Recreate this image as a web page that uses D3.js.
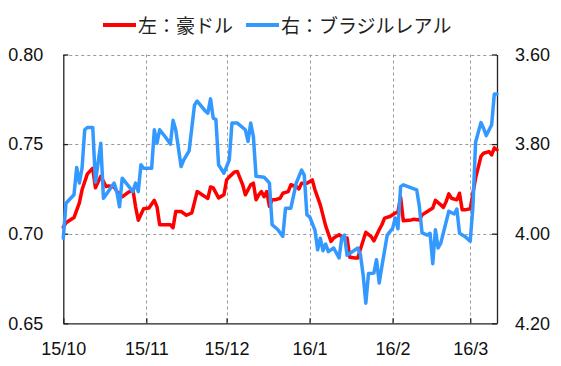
<!DOCTYPE html>
<html><head><meta charset="utf-8">
<script src="https://cdn.jsdelivr.net/npm/d3@7"></script>
<style>body{margin:0;background:#fff}svg{display:block}</style>
</head><body><svg id="c" width="561" height="366"></svg>
<script>
// ---- data ----
const seriesNames = ["左：豪ドル", "右：ブラジルレアル"];
const leftTicks = [0.65, 0.70, 0.75, 0.80];
const rightTicks = [3.60, 3.80, 4.00, 4.20];
const monthTicks = ["2015-10-01","2015-11-01","2015-12-01","2016-01-01","2016-02-01","2016-03-01"];
const xStart = "2015-10-01", xEnd = "2016-03-11";

const audDates = ["2015-10-01","2015-10-02","2015-10-05","2015-10-07","2015-10-08","2015-10-10","2015-10-12","2015-10-13","2015-10-15","2015-10-17","2015-10-18","2015-10-20","2015-10-21","2015-10-23","2015-10-25","2015-10-27","2015-10-28","2015-10-29","2015-10-31",
"2015-11-02","2015-11-04","2015-11-05","2015-11-06","2015-11-10","2015-11-11","2015-11-12","2015-11-14","2015-11-16","2015-11-18","2015-11-20","2015-11-23","2015-11-24","2015-11-25","2015-11-26","2015-11-28","2015-11-30",
"2015-12-01","2015-12-02","2015-12-04","2015-12-05","2015-12-06","2015-12-07","2015-12-08","2015-12-10","2015-12-11","2015-12-12","2015-12-13","2015-12-14","2015-12-15","2015-12-16","2015-12-17","2015-12-18","2015-12-19","2015-12-21","2015-12-22","2015-12-24","2015-12-25","2015-12-27","2015-12-28","2015-12-29","2015-12-31",
"2016-01-02","2016-01-03","2016-01-05","2016-01-07","2016-01-09","2016-01-10","2016-01-12","2016-01-14","2016-01-15","2016-01-16","2016-01-18","2016-01-19","2016-01-20","2016-01-22","2016-01-24","2016-01-25","2016-01-27","2016-01-28","2016-01-29","2016-01-31",
"2016-02-02","2016-02-03","2016-02-04","2016-02-05","2016-02-08","2016-02-09","2016-02-11","2016-02-12","2016-02-14","2016-02-16","2016-02-17","2016-02-19","2016-02-20","2016-02-21","2016-02-22","2016-02-23","2016-02-25","2016-02-26","2016-02-27","2016-02-28",
"2016-03-01","2016-03-03","2016-03-05","2016-03-06","2016-03-08","2016-03-09","2016-03-10","2016-03-11"];
const audValues = [0.7036,0.7061,0.7090,0.7172,0.7245,0.7334,0.7365,0.7256,0.7320,0.7263,0.7267,0.7261,0.7236,0.7206,0.7228,0.7245,0.7150,0.7075,0.7139,
0.7143,0.7186,0.7150,0.7050,0.7050,0.7033,0.7124,0.7124,0.7103,0.7116,0.7235,0.7206,0.7197,0.7261,0.7256,0.7200,0.7217,
0.7300,0.7317,0.7345,0.7347,0.7310,0.7273,0.7217,0.7273,0.7282,0.7189,0.7217,0.7235,0.7207,0.7235,0.7152,0.7189,0.7189,0.7198,0.7226,0.7235,0.7273,0.7263,0.7250,0.7282,0.7282,
0.7300,0.7245,0.7161,0.7044,0.6957,0.6976,0.6994,0.6972,0.6976,0.6868,0.6864,0.6864,0.6915,0.7008,0.6984,0.6960,0.7022,0.7050,0.7087,0.7096,
0.7115,0.7122,0.7203,0.7072,0.7077,0.7081,0.7077,0.7105,0.7124,0.7143,0.7186,0.7161,0.7147,0.7179,0.7222,0.7198,0.7189,0.7226,0.7133,0.7133,
0.7139,0.7310,0.7431,0.7449,0.7458,0.7440,0.7479,0.7468];

const brlDates = ["2015-10-01","2015-10-02","2015-10-05","2015-10-06","2015-10-07","2015-10-08","2015-10-09","2015-10-10","2015-10-12","2015-10-13","2015-10-15","2015-10-16","2015-10-18","2015-10-20","2015-10-21","2015-10-22","2015-10-23","2015-10-25","2015-10-27","2015-10-28","2015-10-29","2015-10-30","2015-10-31",
"2015-11-03","2015-11-04","2015-11-05","2015-11-06","2015-11-08","2015-11-10","2015-11-11","2015-11-12","2015-11-14","2015-11-15","2015-11-17","2015-11-19","2015-11-20","2015-11-23","2015-11-24","2015-11-25","2015-11-26","2015-11-27","2015-11-28","2015-11-30",
"2015-12-02","2015-12-03","2015-12-05","2015-12-08","2015-12-09","2015-12-10","2015-12-11","2015-12-12","2015-12-15","2015-12-16","2015-12-17","2015-12-18","2015-12-20","2015-12-22","2015-12-23","2015-12-25","2015-12-27","2015-12-29","2015-12-30","2015-12-31",
"2016-01-01","2016-01-03","2016-01-04","2016-01-05","2016-01-06","2016-01-07","2016-01-08","2016-01-10","2016-01-12","2016-01-13","2016-01-14","2016-01-15","2016-01-17","2016-01-19","2016-01-20","2016-01-21","2016-01-22","2016-01-23","2016-01-25","2016-01-26","2016-01-27","2016-01-28","2016-01-30",
"2016-02-01","2016-02-02","2016-02-03","2016-02-04","2016-02-05","2016-02-10","2016-02-11","2016-02-12","2016-02-14","2016-02-15","2016-02-16","2016-02-17","2016-02-18","2016-02-19","2016-02-22","2016-02-24","2016-02-25","2016-02-26","2016-02-28",
"2016-03-01","2016-03-02","2016-03-03","2016-03-05","2016-03-06","2016-03-07","2016-03-09","2016-03-10","2016-03-11"];
const brlValues = [4.010,3.932,3.913,3.852,3.887,3.854,3.768,3.763,3.763,3.885,3.798,3.921,3.904,3.887,3.907,3.940,3.876,3.891,3.906,3.887,3.906,3.846,3.854,
3.854,3.768,3.798,3.768,3.783,3.800,3.747,3.768,3.850,3.835,3.815,3.713,3.704,3.726,3.731,3.699,3.742,3.745,3.846,3.865,
3.835,3.753,3.753,3.768,3.794,3.753,3.783,3.872,3.874,3.880,3.887,3.980,3.990,4.006,3.943,3.943,3.887,3.858,3.869,3.958,
3.962,3.992,4.036,4.010,4.038,4.023,4.040,4.032,4.054,4.010,4.003,4.048,4.040,4.032,4.047,4.092,4.155,4.089,4.088,4.058,4.110,4.073,4.003,
3.988,3.965,3.989,3.895,3.891,3.902,3.939,3.998,4.003,3.999,4.067,3.991,4.032,4.021,3.950,3.956,3.945,3.999,4.006,
4.017,3.940,3.796,3.752,3.765,3.781,3.757,3.688,3.688];

// ---- layout ----
const W = 561, H = 366;
const m = {left: 63.3, right: 64, top: 54.5, bottom: 42.7};
const parse = d3.utcParse("%Y-%m-%d");
const svg = d3.select("#c");

const x = d3.scaleUtc().domain([parse(xStart), parse(xEnd)]).range([m.left, W - m.right]);
const yL = d3.scaleLinear().domain([0.65, 0.80]).range([H - m.bottom, m.top]);
const yR = d3.scaleLinear().domain([3.60, 4.20]).range([m.top, H - m.bottom]);

const numFont = "'Liberation Sans', Arial, sans-serif";

// gridlines
const grid = svg.append("g").attr("stroke", "#9a9a9a").attr("stroke-width", 1).attr("stroke-dasharray", "3,3");
grid.selectAll("line.h").data(leftTicks.slice(1)).join("line")
  .attr("x1", m.left).attr("x2", W - m.right)
  .attr("y1", d => Math.round(yL(d)) + 0.5).attr("y2", d => Math.round(yL(d)) + 0.5);
grid.selectAll("line.v").data(monthTicks.slice(1).map(parse)).join("line")
  .attr("y1", m.top).attr("y2", H - m.bottom)
  .attr("x1", d => Math.round(x(d)) + 0.5).attr("x2", d => Math.round(x(d)) + 0.5);

// axes
function styleAxis(g) {
  g.select(".domain").attr("stroke", "#222").attr("stroke-width", 1.3);
  g.selectAll(".tick line").attr("stroke", "#222").attr("stroke-width", 1.3);
  g.selectAll("text").attr("fill", "#111").style("font-family", numFont).style("font-size", "18px");
}
svg.append("g").attr("transform", `translate(${m.left},0)`)
  .call(d3.axisLeft(yL).tickValues(leftTicks).tickFormat(d3.format(".2f")).tickSize(-5).tickSizeOuter(0).tickPadding(20))
  .call(styleAxis);
svg.append("g").attr("transform", `translate(${W - m.right},0)`)
  .call(d3.axisRight(yR).tickValues(rightTicks).tickFormat(d3.format(".2f")).tickSize(-5).tickSizeOuter(0).tickPadding(18))
  .call(styleAxis);
svg.append("g").attr("transform", `translate(0,${H - m.bottom})`)
  .call(d3.axisBottom(x).tickValues(monthTicks.map(parse)).tickFormat(d3.utcFormat("%y/%-m")).tickSize(-5).tickSizeOuter(0).tickPadding(19))
  .call(styleAxis);

// lines
const aud = audDates.map((d, i) => ({date: parse(d), v: audValues[i]}));
const brl = brlDates.map((d, i) => ({date: parse(d), v: brlValues[i]}));
const red = "#ff0000", blue = "#3399ff";
svg.append("path").datum(aud)
  .attr("fill", "none").attr("stroke", red).attr("stroke-width", 3.5).attr("stroke-linejoin", "round").attr("stroke-linecap", "round")
  .attr("d", d3.line().x(d => x(d.date)).y(d => yL(d.v)));
svg.append("path").datum(brl)
  .attr("fill", "none").attr("stroke", blue).attr("stroke-width", 3.5).attr("stroke-linejoin", "round").attr("stroke-linecap", "round")
  .attr("d", d3.line().x(d => x(d.date)).y(d => yR(d.v)));

// legend
const legend = svg.append("g").style("font-family", "'Noto Sans CJK JP', sans-serif").style("font-size", "19px");
const legItems = [{name: seriesNames[0], color: red, x0: 103}, {name: seriesNames[1], color: blue, x0: 246}];
legItems.forEach(it => {
  legend.append("line").attr("x1", it.x0).attr("x2", it.x0 + 33).attr("y1", 25).attr("y2", 25)
    .attr("stroke", it.color).attr("stroke-width", 4);
  legend.append("text").attr("x", it.x0 + 35).attr("y", 24).attr("dominant-baseline", "central")
    .attr("fill", "#222").text(it.name);
});
</script>
</body></html>
